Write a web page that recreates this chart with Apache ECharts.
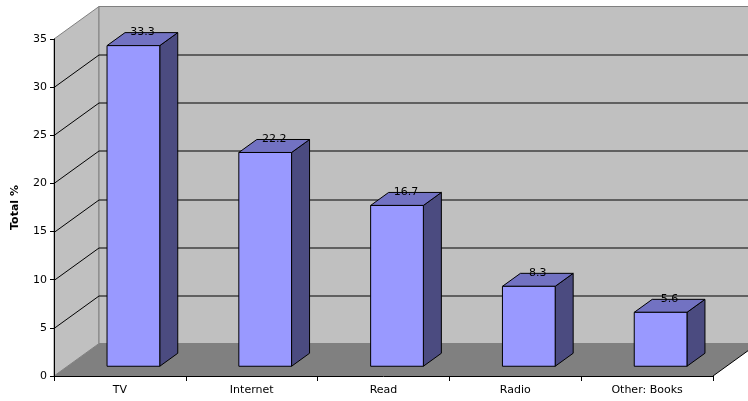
<!DOCTYPE html>
<html>
<head>
<meta charset="utf-8">
<script src="https://cdn.jsdelivr.net/npm/echarts@6/dist/echarts.min.js"></script>
<style>
  html, body { margin: 0; padding: 0; background: #fff; }
  #chart { width: 748px; height: 401px; }
</style>
</head>
<body>
<div id="chart"></div>
<script>
// Activities, share of total (%)
const categories = ['TV', 'Internet', 'Read', 'Radio', 'Other: Books'];
const totals = [33.3, 22.2, 16.7, 8.3, 5.6];
const yTicks = [0, 5, 10, 15, 20, 25, 30, 35];

// 3D look: how far the back wall sits behind the front plane (px)
const DEPTH = { x: 45, y: -32.5 };
const BAR_FRONT = 0.3;  // bar front face, as a fraction of the depth
const BAR_BACK = 0.7;   // bar back face
const BAR_WIDTH = 0.4;  // share of a category slot

const FONT = '"DejaVu Sans", "Liberation Sans", Arial, sans-serif';
const yMin = yTicks[0];
const yMax = yTicks[yTicks.length - 1];
const yStep = yTicks[1] - yTicks[0];

const chart = echarts.init(document.getElementById('chart'), null, { renderer: 'canvas' });

function renderWalls(params, api) {
  const cs = params.coordSys;
  const x0 = cs.x, x1 = cs.x + cs.width;
  const yBase = api.coord([0, yMin])[1];
  const yTop = api.coord([0, yMax])[1];
  const dx = DEPTH.x, dy = DEPTH.y;
  const children = [];
  // left side wall
  children.push({
    type: 'polygon',
    shape: { points: [[x0, yTop], [x0 + dx, yTop + dy], [x0 + dx, yBase + dy], [x0, yBase]] },
    style: { fill: '#c0c0c0', stroke: '#808080', lineWidth: 1 }
  });
  // back wall
  children.push({
    type: 'polygon',
    shape: { points: [[x0 + dx, yTop + dy], [x1 + dx, yTop + dy], [x1 + dx, yBase + dy], [x0 + dx, yBase + dy]] },
    style: { fill: '#c0c0c0', stroke: '#808080', lineWidth: 1 }
  });
  // floor
  children.push({
    type: 'polygon',
    shape: { points: [[x0, yBase], [x1, yBase], [x1 + dx, yBase + dy], [x0 + dx, yBase + dy]] },
    style: { fill: '#808080' }
  });
  children.push({
    type: 'line',
    shape: { x1: x1, y1: yBase, x2: x1 + dx, y2: yBase + dy },
    style: { stroke: '#000', lineWidth: 1 }
  });
  // gridlines running along the side and back walls
  yTicks.forEach(function (v) {
    if (v === yMin || v === yMax) return;
    const y = Math.round(api.coord([0, v])[1]) + 0.5;
    children.push({
      type: 'polyline',
      shape: { points: [[x0, y], [x0 + dx, y + dy], [x1 + dx, y + dy]] },
      style: { stroke: '#000', lineWidth: 1, fill: null }
    });
  });
  return { type: 'group', children: children };
}

function renderBar(params, api) {
  const idx = api.value(0);
  const val = api.value(1);
  const base = api.coord([idx, yMin]);
  const top = api.coord([idx, val]);
  const slot = api.size([1, 0])[0];
  const bw = slot * BAR_WIDTH;
  const fx = DEPTH.x * BAR_FRONT, fy = DEPTH.y * BAR_FRONT;
  const ddx = DEPTH.x * (BAR_BACK - BAR_FRONT), ddy = DEPTH.y * (BAR_BACK - BAR_FRONT);
  const xl = base[0] - bw / 2 + fx, xr = base[0] + bw / 2 + fx;
  const yb = base[1] + fy, yt = top[1] + fy;
  const edge = { stroke: '#000', lineWidth: 1, lineJoin: 'miter' };
  return {
    type: 'group',
    children: [
      {
        type: 'polygon',
        shape: { points: [[xr, yt], [xr + ddx, yt + ddy], [xr + ddx, yb + ddy], [xr, yb]] },
        style: Object.assign({ fill: '#4b4b80' }, edge)
      },
      {
        type: 'polygon',
        shape: { points: [[xl, yt], [xr, yt], [xr + ddx, yt + ddy], [xl + ddx, yt + ddy]] },
        style: Object.assign({ fill: '#7272c2' }, edge)
      },
      {
        type: 'rect',
        shape: { x: xl, y: yt, width: xr - xl, height: yb - yt },
        style: Object.assign({ fill: '#9999ff' }, edge)
      },
      {
        type: 'text',
        style: {
          x: (xl + xr) / 2 + ddx / 2,
          y: yt + ddy / 2 - 1,
          text: val.toFixed(1),
          fill: '#000',
          font: '11px ' + FONT,
          align: 'center',
          verticalAlign: 'bottom'
        }
      }
    ]
  };
}

chart.setOption({
  animation: false,
  backgroundColor: '#ffffff',
  grid: { left: 54, right: 35, top: 39, bottom: 25, containLabel: false },
  xAxis: {
    type: 'category',
    data: categories,
    boundaryGap: true,
    z: 10,
    axisLine: { show: true, lineStyle: { color: '#000', width: 1 } },
    axisTick: { show: true, alignWithLabel: false, length: 5, lineStyle: { color: '#000' } },
    axisLabel: { color: '#000', fontSize: 11, fontFamily: FONT, margin: 9 },
    splitLine: { show: false }
  },
  yAxis: {
    type: 'value',
    min: yMin,
    max: yMax,
    interval: yStep,
    z: 10,
    name: 'Total %',
    nameLocation: 'middle',
    nameRotate: 90,
    nameGap: 33,
    nameTextStyle: { color: '#000', fontSize: 11, fontWeight: 'bold', fontFamily: FONT },
    axisLine: { show: true, lineStyle: { color: '#000', width: 1 } },
    axisTick: { show: true, length: 4, lineStyle: { color: '#000' } },
    axisLabel: { color: '#000', fontSize: 11, fontFamily: FONT, margin: 7 },
    splitLine: { show: false }
  },
  series: [
    {
      type: 'custom',
      name: 'walls',
      z: 1,
      silent: true,
      clip: false,
      renderItem: renderWalls,
      data: [[0, yMin]]
    },
    {
      type: 'custom',
      name: 'Total %',
      z: 3,
      clip: false,
      renderItem: renderBar,
      encode: { x: 0, y: 1 },
      data: totals.map(function (v, i) { return [i, v]; })
    }
  ]
});
</script>
</body>
</html>
